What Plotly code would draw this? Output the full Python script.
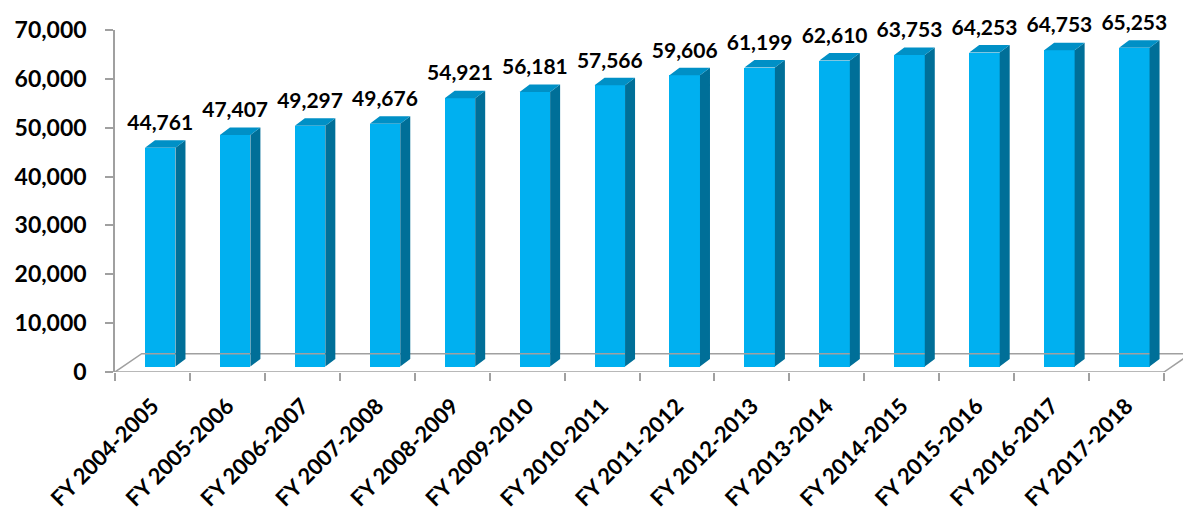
import plotly.graph_objects as go

categories = ["FY 2004-2005", "FY 2005-2006", "FY 2006-2007", "FY 2007-2008",
              "FY 2008-2009", "FY 2009-2010", "FY 2010-2011", "FY 2011-2012",
              "FY 2012-2013", "FY 2013-2014", "FY 2014-2015", "FY 2015-2016",
              "FY 2016-2017", "FY 2017-2018"]
values = [44761, 47407, 49297, 49676, 54921, 56181, 57566, 59606,
          61199, 62610, 63753, 64253, 64753, 65253]
y_ticks = [0, 10000, 20000, 30000, 40000, 50000, 60000, 70000]

W, H = 1183, 510
ML, MR, MT, MB = 115, 0, 30, 138
PX_PER_CAT = 74.93
YMAX = 70000
plot_w = W - ML - MR
plot_h = H - MT - MB
x0 = -0.5
x1 = x0 + plot_w / PX_PER_CAT

def ux(px):
    return px / PX_PER_CAT

def uy(px):
    return px * YMAX / plot_h

FRONT = "#00B0F0"
SIDE = "#006F98"
TOP = "#0090C6"
GRAY = "#A0A0A0"
FONT = "Lato"

n = len(categories)
idx = list(range(n))

# bar geometry (pixel-based styling converted to data units)
face_off = ux(-7.5)
face_w = ux(30.5)
base = uy(5.5)
dpx, dpy = ux(10), uy(7.5)

fig = go.Figure()

# floor
fdx, fdy = ux(26.7), uy(18.3)
fig.add_trace(go.Scatter(
    x=[x0, n - 0.5, None, x0, x0 + fdx, n - 0.5 + fdx + 1, None, n - 0.5, n - 0.5 + fdx],
    y=[0, 0, None, 0, fdy, fdy, None, 0, fdy],
    mode="lines", line=dict(color=GRAY, width=1.5), hoverinfo="skip", showlegend=False))

# front faces
fig.add_trace(go.Bar(
    x=idx, y=values, base=[base] * n, width=face_w, offset=face_off,
    marker=dict(color=FRONT, line=dict(width=0)), showlegend=False))

# side and top faces
sx, sy, tx, ty = [], [], [], []
for i, v in zip(idx, values):
    l = i + face_off
    r = l + face_w
    top = base + v
    sx += [r, r + dpx, r + dpx, r, r, None]
    sy += [base, base + dpy, top + dpy, top, base, None]
    tx += [l, r, r + dpx, l + dpx, l, None]
    ty += [top, top, top + dpy, top + dpy, top, None]
fig.add_trace(go.Scatter(x=sx, y=sy, fill="toself", fillcolor=SIDE, mode="lines",
                         line=dict(width=0, color=SIDE), hoverinfo="skip", showlegend=False))
fig.add_trace(go.Scatter(x=tx, y=ty, fill="toself", fillcolor=TOP, mode="lines",
                         line=dict(width=0, color=TOP), hoverinfo="skip", showlegend=False))

# data labels
fig.add_trace(go.Scatter(
    x=[i + face_off + face_w / 2 for i in idx],
    y=[base + v + dpy + uy(5) for v in values],
    text=[f"{v:,}" for v in values], mode="text", textposition="top center",
    textfont=dict(family=FONT, size=21, color="#000000", weight="bold"),
    cliponaxis=False, hoverinfo="skip", showlegend=False))

fig.update_layout(
    width=W, height=H, margin=dict(l=ML, r=MR, t=MT, b=MB),
    paper_bgcolor="white", plot_bgcolor="white",
    bargap=0,
    xaxis=dict(range=[x0, x1], tickmode="array", tickvals=idx, ticktext=categories,
               tickangle=-45, ticks="", showgrid=False, zeroline=False, showline=False,
               ticklabelstandoff=16,
               tickfont=dict(family=FONT, size=22, color="#000000", weight="bold"),
               minor=dict(tickmode="array", tickvals=[i - 0.5 for i in range(n + 1)],
                          ticks="outside", ticklen=8, tickwidth=1.5, tickcolor=GRAY,
                          showgrid=False)),
    yaxis=dict(range=[0, YMAX], tickmode="array", tickvals=y_ticks, tickformat=",",
               ticks="outside", ticklen=8, tickwidth=1.5, tickcolor=GRAY,
               showline=True, linecolor=GRAY, linewidth=1.5,
               showgrid=False, zeroline=False, ticklabelstandoff=14,
               tickfont=dict(family=FONT, size=23, color="#000000", weight="bold")),
)

fig.write_html("out.html")
